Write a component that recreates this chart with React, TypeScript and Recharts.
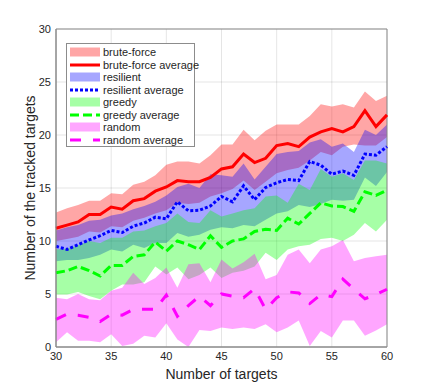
import { ComposedChart, Area, Line, XAxis, YAxis, CartesianGrid, Legend, ReferenceArea } from "recharts"

const FONT = "'Liberation Sans', Arial, Helvetica, sans-serif"

const targets = [30, 31, 32, 33, 34, 35, 36, 37, 38, 39, 40, 41, 42, 43, 44, 45, 46, 47, 48, 49, 50, 51, 52, 53, 54, 55, 56, 57, 58, 59, 60]

// brute-force
const bfAvg = [11.2, 11.5, 11.8, 12.5, 12.5, 13.2, 13.0, 13.8, 14.0, 14.7, 15.1, 15.7, 15.6, 15.6, 16.0, 16.8, 17.0, 18.2, 17.4, 17.8, 19.0, 19.2, 18.9, 19.8, 20.3, 20.6, 20.3, 20.8, 22.3, 20.8, 21.9]
const bfHigh = [12.7, 13.1, 13.4, 13.8, 13.8, 14.5, 14.4, 15.3, 15.6, 16.2, 17.2, 17.5, 17.5, 17.3, 18.1, 19.1, 19.1, 20.5, 19.5, 20.4, 21.0, 21.0, 21.0, 21.8, 22.9, 22.7, 22.9, 22.6, 24.1, 23.2, 23.7]
const bfLow = [10.0, 10.2, 10.4, 10.9, 10.8, 11.4, 11.3, 11.9, 12.2, 12.6, 12.9, 13.6, 13.5, 13.6, 14.2, 14.5, 14.9, 15.7, 14.8, 15.6, 16.4, 16.7, 16.9, 17.6, 18.4, 18.1, 18.9, 19.1, 19.0, 19.0, 19.8]

// resilient
const resAvg = [9.5, 9.2, 9.65, 10.1, 10.5, 11.0, 10.8, 11.4, 11.7, 12.25, 12.1, 13.7, 12.85, 12.9, 13.3, 14.2, 13.7, 15.2, 13.9, 15.05, 15.5, 15.8, 15.7, 17.5, 17.15, 16.3, 16.6, 16.2, 18.2, 18.1, 18.9]
const resHigh = [11.0, 11.3, 11.5, 11.9, 12.0, 12.4, 12.6, 13.0, 13.3, 13.7, 14.3, 15.1, 15.4, 15.0, 16.3, 16.2, 16.05, 17.3, 15.8, 17.0, 18.2, 18.4, 18.5, 19.3, 19.6, 18.9, 19.2, 18.4, 20.5, 20.0, 21.0]
const resLow = [8.1, 8.2, 8.2, 8.4, 8.7, 9.2, 9.0, 9.65, 9.35, 9.8, 9.8, 10.75, 10.4, 10.6, 11.05, 11.3, 11.2, 11.5, 11.4, 12.0, 12.6, 12.8, 13.4, 13.2, 13.5, 13.9, 13.8, 13.9, 16.0, 15.2, 16.5]

// greedy
const grAvg = [7.0, 7.2, 7.6, 7.2, 6.7, 7.7, 7.7, 8.55, 8.7, 9.9, 9.05, 10.0, 9.65, 9.2, 10.5, 9.4, 10.0, 10.2, 10.9, 11.1, 11.0, 12.15, 11.6, 12.6, 13.6, 13.3, 13.25, 12.8, 14.65, 14.3, 14.8]
const grHigh = [9.2, 9.3, 9.6, 10.0, 9.8, 10.3, 10.3, 10.9, 11.0, 11.4, 11.7, 12.6, 11.8, 11.7, 12.9, 12.3, 12.6, 12.9, 13.1, 14.2, 14.3, 13.6, 15.4, 14.8, 16.8, 16.05, 16.4, 15.75, 17.6, 17.6, 17.3]
const grLow = [4.95, 4.95, 5.2, 4.8, 4.5, 5.3, 5.9, 5.9, 6.1, 7.6, 6.85, 7.5, 6.4, 6.8, 7.5, 6.5, 7.0, 7.2, 7.6, 8.9, 8.2, 9.2, 9.5, 9.65, 10.2, 10.3, 10.0, 10.6, 11.7, 10.9, 12.0]

// random
const rnAvg = [2.6, 3.1, 3.0, 2.8, 2.4, 3.1, 3.0, 3.55, 3.55, 3.55, 4.9, 2.9, 3.9, 4.8, 3.9, 5.0, 4.8, 4.65, 5.5, 3.55, 4.65, 5.2, 5.1, 4.1, 4.95, 4.75, 6.4, 5.45, 4.55, 4.95, 5.45]
const rnHigh = [4.65, 4.5, 5.0, 4.5, 4.4, 5.3, 5.6, 7.0, 5.95, 6.5, 7.5, 5.6, 7.8, 7.9, 6.1, 8.25, 7.4, 8.0, 8.8, 6.4, 6.8, 8.7, 9.2, 7.9, 9.2, 9.5, 10.1, 8.1, 8.4, 8.55, 8.7]
const rnLow = [0.45, 1.4, 0.6, 0.6, 0.45, 1.2, 0.1, 0.3, 1.05, 0.9, 2.25, 0.7, 0.0, 1.6, 1.5, 1.85, 1.7, 1.85, 1.7, 2.15, 1.4, 1.85, 2.5, 0.1, 1.5, 0.9, 2.5, 2.5, 1.05, 1.55, 2.15]

const xTicks = [30, 35, 40, 45, 50, 55, 60]
const yTicks = [0, 5, 10, 15, 20, 25, 30]

const data = targets.map((x, i) => ({
    x,
    bf: [bfLow[i], bfHigh[i]],
    bfAvg: bfAvg[i],
    res: [resLow[i], resHigh[i]],
    resAvg: resAvg[i],
    gr: [grLow[i], grHigh[i]],
    grAvg: grAvg[i],
    rn: [rnLow[i], rnHigh[i]],
    rnAvg: rnAvg[i],
}))

const legendItems = [
    { label: "brute-force", color: "#ff0000", patch: true, dash: "" },
    { label: "brute-force average", color: "#ff0000", patch: false, dash: "" },
    { label: "resilient", color: "#0000ff", patch: true, dash: "" },
    { label: "resilient average", color: "#0000ff", patch: false, dash: "3 2" },
    { label: "greedy", color: "#00ff00", patch: true, dash: "" },
    { label: "greedy average", color: "#00ff00", patch: false, dash: "9 4" },
    { label: "random", color: "#ff00ff", patch: true, dash: "" },
    { label: "random average", color: "#ff00ff", patch: false, dash: "11 12" },
]

const LegendBox = () => (
    <div style={{ background: "#fff", border: "1px solid #8c8c8c", padding: "2px 0 0 0", boxSizing: "border-box", width: 129, height: 104, fontFamily: FONT }}>
        {legendItems.map((it) => (
            <div key={it.label} style={{ display: "flex", alignItems: "center", height: 12.5 }}>
                <svg width={33} height={12} style={{ flex: "none" }}>
                    {it.patch ? (
                        <rect x={3} y={1.5} width={30} height={9} fill={it.color} fillOpacity={0.35} />
                    ) : (
                        <line x1={3} y1={6} x2={33} y2={6} stroke={it.color} strokeWidth={3} strokeDasharray={it.dash || undefined} />
                    )}
                </svg>
                <span style={{ fontSize: 11, color: "#262626", marginLeft: 3, whiteSpace: "nowrap" }}>{it.label}</span>
            </div>
        ))}
    </div>
)

export default function App() {
    const tickStyle = { fontSize: 11, fill: "#262626", fontFamily: FONT }
    return (
        <div style={{ position: "absolute", left: 0, top: 0 }}>
            <ComposedChart width={428} height={391} data={data}
                margin={{ top: 29, right: 41, left: 0, bottom: 0 }}>
                <XAxis dataKey="x" type="number" domain={[30, 60]} ticks={xTicks} height={44}
                    tick={tickStyle} tickLine={false} tickSize={3} tickMargin={2} stroke="#8c8c8c"
                    label={{ value: "Number of targets", position: "insideBottom", offset: 12, fontSize: 14, fill: "#262626", fontFamily: FONT }} />
                <YAxis type="number" domain={[0, 30]} ticks={yTicks} width={56} interval={0}
                    tick={tickStyle} tickLine={false} tickSize={3} tickMargin={2} stroke="#8c8c8c"
                    label={{ value: "Number of the tracked targets", angle: -90, position: "center", dx: 2, fontSize: 14, fill: "#262626", fontFamily: FONT }} />
                <CartesianGrid stroke="#000" strokeOpacity={0.1} />
                <Area type="linear" dataKey="bf" name="brute-force" fill="#ff0000" fillOpacity={0.35} stroke="none" isAnimationActive={false} />
                <Area type="linear" dataKey="res" name="resilient" fill="#0000ff" fillOpacity={0.35} stroke="none" isAnimationActive={false} />
                <Area type="linear" dataKey="gr" name="greedy" fill="#00ff00" fillOpacity={0.35} stroke="none" isAnimationActive={false} />
                <Area type="linear" dataKey="rn" name="random" fill="#ff00ff" fillOpacity={0.35} stroke="none" isAnimationActive={false} />
                <Line type="linear" dataKey="bfAvg" name="brute-force average" stroke="#ff0000" strokeWidth={3} dot={false} isAnimationActive={false} />
                <Line type="linear" dataKey="resAvg" name="resilient average" stroke="#0000ff" strokeWidth={3} strokeDasharray="3 2" dot={false} isAnimationActive={false} />
                <Line type="linear" dataKey="grAvg" name="greedy average" stroke="#00ff00" strokeWidth={3} strokeDasharray="9 4" dot={false} isAnimationActive={false} />
                <Line type="linear" dataKey="rnAvg" name="random average" stroke="#ff00ff" strokeWidth={3} strokeDasharray="11 12" dot={false} isAnimationActive={false} />
                <ReferenceArea x1={30} x2={60} y1={0} y2={30} fill="none" stroke="#8c8c8c" strokeWidth={1} />
                <Legend layout="vertical" align="center" verticalAlign="middle" content={() => <LegendBox />}
                    wrapperStyle={{ left: 66, top: 43, width: 129, height: 104 }} />
            </ComposedChart>
        </div>
    )
}
